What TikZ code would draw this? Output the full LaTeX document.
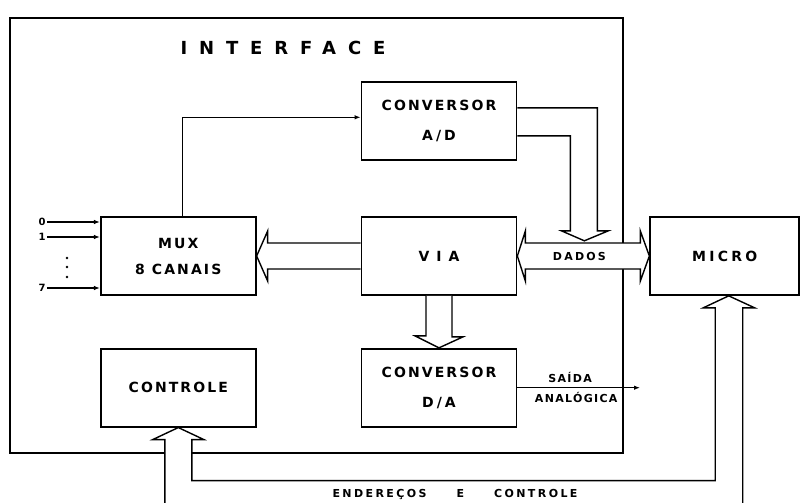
\documentclass[tikz,border=0pt]{standalone}
\usepackage{fontspec}
\newfontfamily\diagfont[LetterSpace=15]{DejaVu Sans Bold}
\usetikzlibrary{arrows.meta, positioning, calc}

\begin{document}
\begin{tikzpicture}[x=1pt, y=-1pt,
    block/.style={rectangle, draw, line width=1.7pt, minimum width=155pt, minimum height=78pt, align=center, inner sep=2pt, font=\diagfont\fontsize{14}{30}\selectfont},
    frame/.style={draw, line width=1.8pt},
    fatarrow/.style={draw, fill=white, line width=1.4pt, line join=miter},
    arrow/.style={-{Latex[length=6pt,width=4.5pt]}, line width=1.3pt},
    lbl/.style={font=\diagfont\fontsize{11}{12}\selectfont\addfontfeature{LetterSpace=12}, inner sep=1pt},
    inlbl/.style={font=\diagfont\fontsize{10}{10}\selectfont, inner sep=1.5pt}]

    \useasboundingbox (0,0) rectangle (800,503);

    % interface frame
    \draw [frame] (10,18) rectangle (623,453);
    \node (title) [font=\diagfont\fontsize{18}{20}\selectfont\addfontfeature{LetterSpace=66}] at (283,48) {INTERFACE};

    \node (via) [block] at (439,256) {V I A};
    \node (ad) [block, above=55pt of via] {CONVERSOR\\A\kern3pt/\kern3pt D};
    \node (da) [block, below=52pt of via] {CONVERSOR\\D\kern3pt/\kern3pt A};
    \node (mux) [block, left=104pt of via, font=\diagfont\fontsize{14}{26}\selectfont] {MUX\\8 CANAIS};
    \node (ctrl) [block, below=52pt of mux] {CONTROLE};
    \node (micro) [block, minimum width=149pt, right=132pt of via] {\addfontfeature{LetterSpace=23}MICRO};

    % mux inputs
    \node (in0) [inlbl] at (42,222) {0};
    \node (in1) [inlbl] at (42,237) {1};
    \node (in7) [inlbl] at (42,288) {7};
    \foreach \y in {258,267,277}
        \fill (67,\y) circle (1.3pt);
    \draw [arrow] (in0.east) -- (in0 -| mux.west);
    \draw [arrow] (in1.east) -- (in1 -| mux.west);
    \draw [arrow] (in7.east) -- (in7 -| mux.west);

    \draw [arrow] ([xshift=4pt]mux.north) |- ([yshift=4pt]ad.west);

    % dados bus
    \draw [fatarrow] (via.east) -- ++(8,-25) -- ++(0,12) -- ++(115,0) -- ++(0,-12) -- (micro.west)
        -- ++(-9,25) -- ++(0,-12) -- ++(-115,0) -- ++(0,12) -- cycle;
    \node (dados) [lbl, font=\diagfont\fontsize{11}{12}\selectfont\addfontfeature{LetterSpace=20}] at ($(via.east)!0.47!(micro.west)$) {DADOS};

    \draw [fatarrow] ([yshift=13.5pt]ad.east) -- ++(80,0) -- ++(0,123) -- ++(11,0) -- ++(-24,10)
        -- ++(-23,-10) -- ++(9,0) -- ++(0,-95) -- ([yshift=-14.5pt]ad.east);

    \draw [fatarrow] ([yshift=13pt]via.west) -- ++(-93,0) -- ++(0,-12) -- (mux.east |- via.west)
        -- ++(11,25) -- ++(0,-12) -- ([yshift=-13pt]via.west);

    \draw [fatarrow] ([xshift=-13pt]via.south) -- ++(0,40) -- ++(-11,0) -- (da.north)
        -- ++(24,-11) -- ++(-11,0) -- ([xshift=13pt]via.south);

    % saida analogica
    \coordinate (saida) at (640,0);
    \draw [arrow] (da.east) -- node[lbl, pos=0.43, above=3pt] {SAÍDA} node[lbl, pos=0.48, below=3pt] {ANALÓGICA} (da.east -| saida);

    % enderecos e controle
    \draw [fatarrow] ($(ctrl.south)+(-13.5,82)$) -- ++(0,-70) -- ++(-12,0) -- (ctrl.south) -- ++(25.5,12)
        -- ++(-12,0) -- ++(0,41) -| ($(micro.south)+(-9.5,12)$) -- ++(-12,0)
        -- ([xshift=4pt]micro.south) -- ++(26,12) -- ++(-12,0) -- ++(0,200);
    \node (bus) [lbl, font=\diagfont\fontsize{11}{12}\selectfont\addfontfeature{LetterSpace=22}] at (455,494) {ENDEREÇOS\hspace{30pt}E\hspace{30pt}CONTROLE};

\end{tikzpicture}
\end{document}
